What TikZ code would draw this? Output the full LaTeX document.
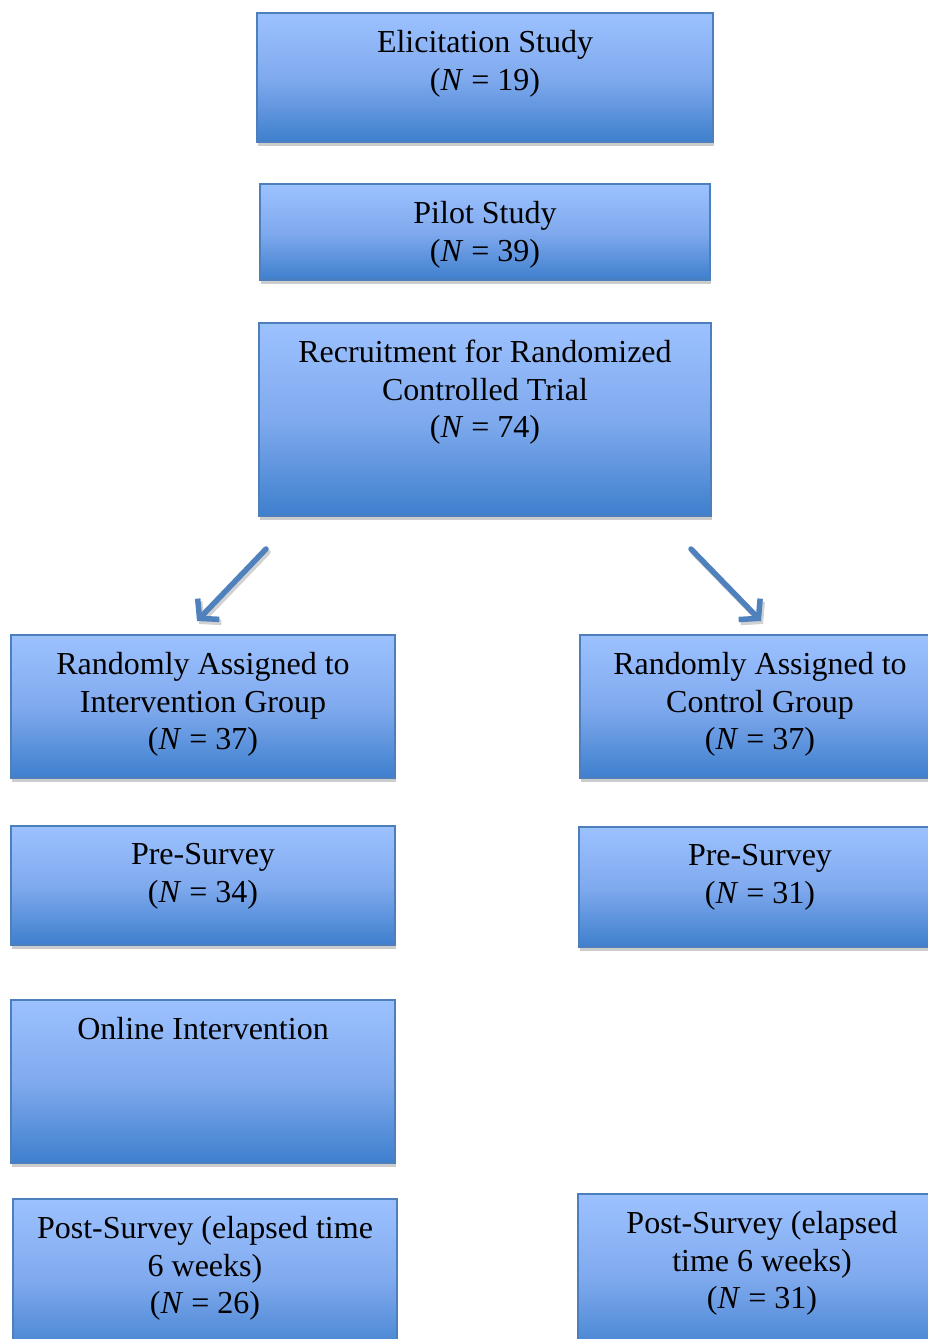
\documentclass[tikz,border=0pt]{standalone}
\usepackage{fontspec}
\setmainfont{Liberation Serif}
\usetikzlibrary{arrows.meta,positioning,shadows}

\definecolor{boxtop}{RGB}{156,193,255}
\definecolor{boxmid}{RGB}{128,170,238}
\definecolor{boxbot}{RGB}{62,127,205}
\definecolor{boxline}{RGB}{76,127,188}
\definecolor{arrowblue}{RGB}{79,129,189}

\begin{document}
\begin{tikzpicture}[x=1pt, y=-1pt,
            stage/.style={draw=boxline, line width=1.5pt, top color=boxtop,
                bottom color=boxbot, middle color=boxmid,
                drop shadow={shadow xshift=1pt, shadow yshift=-4pt, fill=black!20, opacity=1}},
            stagetext/.style={inner sep=0pt, align=center, font=\fontsize{32}{37.5}\selectfont},
            flow/.style={line width=5.5pt, arrowblue, line cap=round,
                -{Straight Barb[length=13pt, width=30pt, line cap=butt, line join=miter]}},
            flowshadow/.style={flow, black!18}]
        \useasboundingbox (0,0) rectangle (927,1339);

        % top column
        \node[stage, minimum width=456pt, minimum height=129pt] (elic) at (485,77.5) {};
        \node[stagetext, below=18pt of elic.north] (elictext) {Elicitation Study\\(\textit{N} = 19)};

        \node[stage, minimum width=450pt, minimum height=96pt] (pilot) at (485,232) {};
        \node[stagetext, below=18pt of pilot.north] (pilottext) {Pilot Study\\(\textit{N} = 39)};

        \node[stage, minimum width=452pt, minimum height=193pt] (recruit) at (485,419.5) {};
        \node[stagetext, below=18pt of recruit.north] (recruittext) {Recruitment for Randomized\\Controlled Trial\\(\textit{N} = 74)};

        % split arrows
        \coordinate (splitL) at (266,549);
        \coordinate (tipL) at (197,621);
        \coordinate (splitR) at (691,549);
        \coordinate (tipR) at (761,621);
        \draw[flowshadow] ([shift={(2,3)}]splitL) -- ([shift={(2,3)}]tipL);
        \draw[flowshadow] ([shift={(2,3)}]splitR) -- ([shift={(2,3)}]tipR);
        \draw[flow] (splitL) -- (tipL);
        \draw[flow] (splitR) -- (tipR);

        % intervention group
        \node[stage, minimum width=384pt, minimum height=143pt] (randL) at (203,706.5) {};
        \node[stagetext, below=18pt of randL.north] (randLtext) {Randomly Assigned to\\Intervention Group\\(\textit{N} = 37)};

        \node[stage, minimum width=384pt, minimum height=119pt] (preL) at (203,885.5) {};
        \node[stagetext, below=18pt of preL.north] (preLtext) {Pre-Survey\\(\textit{N} = 34)};

        \node[stage, minimum width=384pt, minimum height=163pt] (online) at (203,1081.5) {};
        \node[stagetext, below=18pt of online.north] (onlinetext) {Online Intervention};

        \node[stage, minimum width=384pt, minimum height=161pt] (postL) at (205,1279.5) {};
        \node[stagetext, below=18pt of postL.north] (postLtext) {Post-Survey (elapsed time\\6 weeks)\\(\textit{N} = 26)};

        % control group
        \node[stage, minimum width=360pt, minimum height=143pt] (randR) at (760,706.5) {};
        \node[stagetext, below=18pt of randR.north] (randRtext) {Randomly Assigned to\\Control Group\\(\textit{N} = 37)};

        \node[stage, minimum width=362pt, minimum height=120pt] (preR) at (760,887) {};
        \node[stagetext, below=18pt of preR.north] (preRtext) {Pre-Survey\\(\textit{N} = 31)};

        \node[stage, minimum width=368pt, minimum height=166pt] (postR) at (762,1277) {};
        \node[stagetext, below=18pt of postR.north] (postRtext) {Post-Survey (elapsed\\time 6 weeks)\\(\textit{N} = 31)};
\end{tikzpicture}
\end{document}
